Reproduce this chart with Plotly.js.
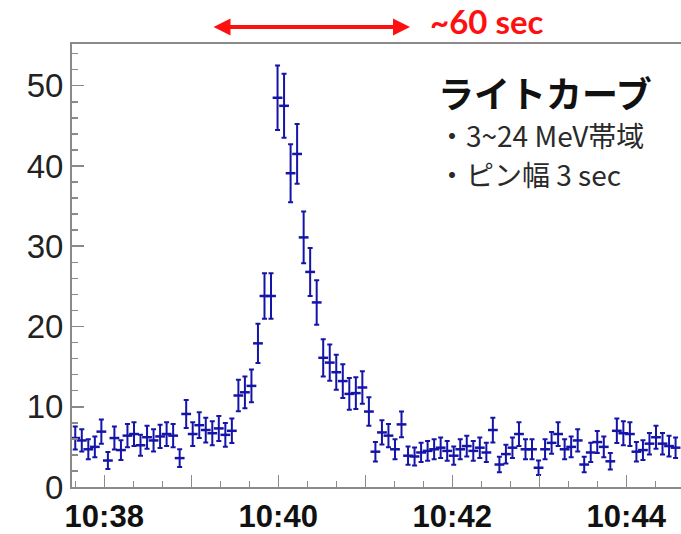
<!DOCTYPE html>
<html>
<head>
<meta charset="utf-8">
<script src="https://cdn.plot.ly/plotly-3.0.1.min.js"></script>
<style>html,body{margin:0;padding:0;background:#fff;}#chart{width:681px;height:534px;}</style>
</head>
<body>
<div id="chart"></div>
<script>
// Light-curve rates per bin, and their error bars
const rates = [
  6.1, 5.8, 4.7, 5.0, 6.9, 3.3, 6.1, 4.6, 6.4, 6.6,
  5.2, 6.2, 5.8, 6.3, 6.6, 6.4, 3.6, 9.1, 6.6, 7.7,
  7.1, 6.7, 7.3, 6.5, 7.0, 11.4, 11.8, 12.6, 17.9, 23.8,
  23.8, 48.5, 47.5, 39.1, 41.5, 31.1, 26.8, 23.0, 16.1, 15.5,
  14.3, 13.2, 11.6, 11.7, 12.4, 9.4, 4.4, 6.8, 6.4, 4.7,
  7.8, 3.9, 3.8, 4.3, 4.5, 4.7, 4.9, 4.5, 3.9, 4.7,
  5.1, 4.5, 4.9, 4.3, 7.1, 2.8, 4.1, 4.9, 6.6, 4.7,
  4.7, 2.4, 4.7, 5.5, 6.6, 4.7, 5.0, 5.8, 2.8, 4.3,
  5.6, 5.0, 3.2, 7.0, 6.7, 6.6, 4.4, 4.6, 5.4, 6.2,
  5.4, 5.1, 4.9
];
const rateErrors = [
  1.43, 1.39, 1.25, 1.29, 1.52, 1.05, 1.43, 1.24, 1.46, 1.48,
  1.32, 1.44, 1.39, 1.45, 1.48, 1.46, 1.10, 1.74, 1.48, 1.60,
  1.54, 1.49, 1.56, 1.47, 1.53, 1.95, 1.98, 2.05, 2.44, 2.82,
  2.82, 4.02, 3.98, 3.61, 3.72, 3.22, 2.99, 2.77, 2.32, 2.27,
  2.18, 2.10, 1.97, 1.97, 2.03, 1.77, 1.21, 1.51, 1.46, 1.25,
  1.61, 1.14, 1.13, 1.20, 1.22, 1.25, 1.28, 1.22, 1.14, 1.25,
  1.30, 1.22, 1.28, 1.20, 1.54, 0.97, 1.17, 1.28, 1.48, 1.25,
  1.25, 0.89, 1.25, 1.35, 1.48, 1.25, 1.29, 1.39, 0.97, 1.20,
  1.37, 1.29, 1.03, 1.53, 1.49, 1.48, 1.21, 1.24, 1.34, 1.44,
  1.34, 1.30, 1.28
];
// Binning of the time axis
const firstBinCenterUTC = Date.UTC(2000, 0, 1, 10, 37, 40);
const binWidthMs = 4500;
const binCenters = rates.map((_, i) => firstBinCenterUTC + i * binWidthMs);

// Axis tick labels
const tickTimes = ['2000-01-01 10:38','2000-01-01 10:39','2000-01-01 10:40','2000-01-01 10:41','2000-01-01 10:42','2000-01-01 10:43','2000-01-01 10:44'];
const tickLabels = ['10:38','','10:40','','10:42','','10:44'];
const xRange = ['2000-01-01 10:37:37.75','2000-01-01 10:44:37.75'];

// Texts
const titleText = 'ライトカーブ';
const infoLines = ['・3~24 MeV帯域', '・ピン幅 3 sec'];
const spanText = '~60 sec';

const blue = '#1414a8';
// horizontal bar = bin width (drawn as a line-ew marker), vertical = error bar
const trace = {
  type: 'scatter',
  mode: 'markers',
  x: binCenters,
  y: rates,
  marker: {symbol: 'line-ew', size: 7, color: blue, line: {color: blue, width: 2.5}},
  error_y: {type: 'data', array: rateErrors, visible: true, color: blue, thickness: 2, width: 2.5},
  hoverinfo: 'skip'
};

const axisGray = '#8a8a8a';
const legendText = '<span style="font-size:36px;font-weight:bold;color:#111">' + titleText + '</span><br>' +
  infoLines.map(t => '<span style="font-size:28px">' + t + '</span>').join('<br>');

const layout = {
  width: 681, height: 534,
  margin: {l: 72, r: 0, t: 44, b: 47},
  paper_bgcolor: '#ffffff', plot_bgcolor: '#ffffff',
  showlegend: false,
  font: {family: 'Liberation Sans, Arial, sans-serif', color: '#111'},
  xaxis: {
    type: 'date', range: xRange,
    tickmode: 'array', tickvals: tickTimes, ticktext: tickLabels,
    ticks: 'inside', ticklen: 12, tickwidth: 1.5, tickcolor: axisGray,
    minor: {tickmode: 'linear', tick0: '2000-01-01 10:38:00', dtick: 20000, ticks: 'inside', ticklen: 6, tickwidth: 1.5, tickcolor: axisGray, showgrid: false},
    showline: true, linecolor: axisGray, linewidth: 2, mirror: true,
    showgrid: false, zeroline: false,
    tickfont: {family: 'Liberation Sans, Arial, sans-serif', size: 31, color: '#111', weight: 700},
    ticklabelstandoff: 1
  },
  yaxis: {
    range: [0, 55.2],
    tickmode: 'linear', tick0: 0, dtick: 10,
    ticks: 'inside', ticklen: 12, tickwidth: 1.5, tickcolor: axisGray,
    minor: {tickmode: 'linear', tick0: 0, dtick: 2, ticks: 'inside', ticklen: 6, tickwidth: 1.5, tickcolor: axisGray, showgrid: false},
    showline: true, linecolor: axisGray, linewidth: 2, mirror: false,
    showgrid: false, zeroline: false,
    tickfont: {family: 'Liberation Sans, Arial, sans-serif', size: 33, color: '#222'},
    ticklabelstandoff: 0
  },
  annotations: [
    {xref: 'paper', yref: 'paper', x: (410 - 72) / 609, y: (487 - 27) / 443,
     ax: -198, ay: 0, text: '', showarrow: true, arrowside: 'end+start',
     arrowhead: 2, startarrowhead: 2, arrowsize: 0.85, startarrowsize: 0.85, arrowwidth: 4, arrowcolor: '#ff1010',
     standoff: 0, startstandoff: 0},
    {xref: 'paper', yref: 'paper', x: (428 - 72) / 609, y: (487 - 21) / 443,
     xanchor: 'left', yanchor: 'middle', showarrow: false,
     text: '<b>' + spanText + '</b>', font: {family: 'Lato, Liberation Sans, sans-serif', size: 33, color: '#ff1010'}},
    {xref: 'paper', yref: 'paper', x: (436 - 72) / 609, y: (487 - 130) / 443,
     xanchor: 'left', yanchor: 'middle', align: 'left', showarrow: false,
     text: legendText, font: {family: 'Noto Sans CJK JP', size: 30, color: '#2a2a2a'}}
  ]
};

Plotly.newPlot('chart', [trace], layout, {staticPlot: true, displayModeBar: false});
</script>
</body>
</html>
